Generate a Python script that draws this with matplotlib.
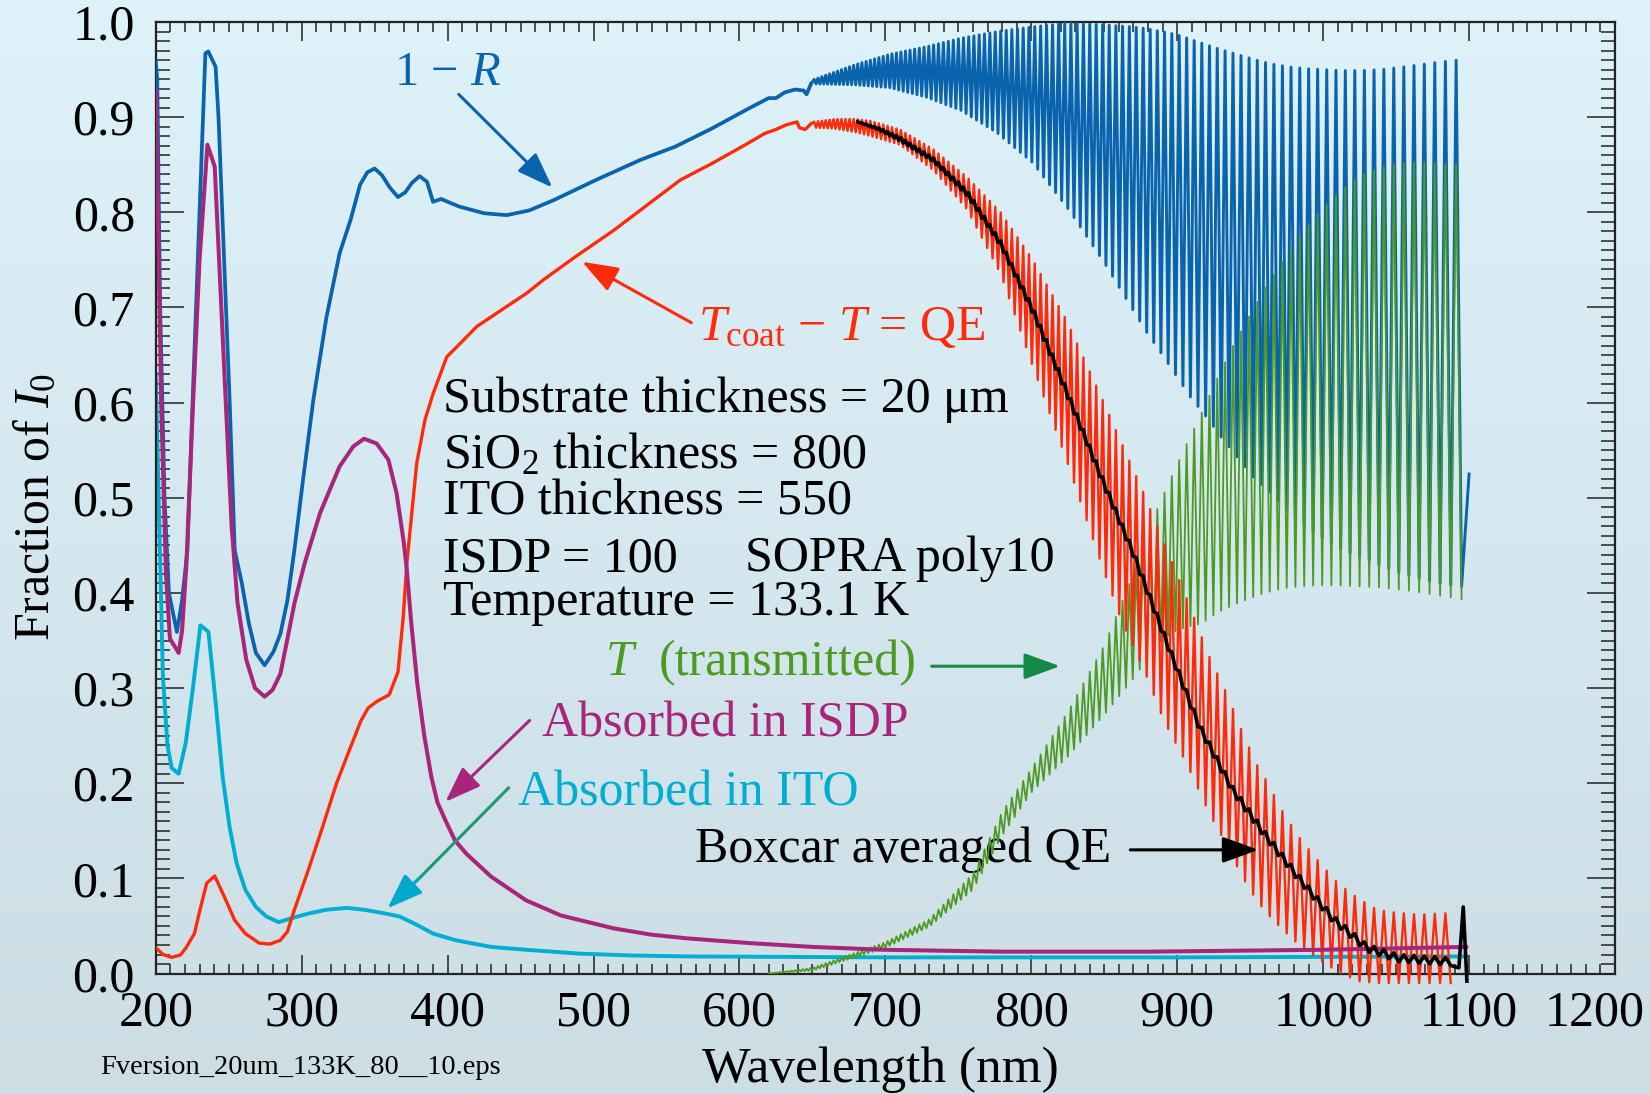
import numpy as np
import matplotlib
matplotlib.use('Agg')
import matplotlib.pyplot as plt
from matplotlib.ticker import MultipleLocator, FuncFormatter

plt.rcParams['font.family'] = 'Liberation Serif'
plt.rcParams['mathtext.fontset'] = 'custom'
plt.rcParams['mathtext.rm'] = 'Liberation Serif'
plt.rcParams['mathtext.it'] = 'Liberation Serif:italic'
plt.rcParams['mathtext.bf'] = 'Liberation Serif:bold'

# ---- smooth parts of the curves (wavelength nm, fraction of I0) ----
blue_wl = [200, 201, 203, 206, 209, 214.5, 218, 221.7, 225.3, 230, 234, 236, 241, 243, 250.6,
           254.1, 259, 263.8, 268.6, 274.6, 280.6, 285.4, 290.2, 295, 301, 308, 317, 326,
           333.5, 340, 345, 350, 355, 360.4, 366, 371, 375.6, 380.8, 385.9, 390, 395.5, 408,
           425, 440.5, 456, 473, 501.7, 532, 556, 581, 605, 620, 625, 631, 638, 644, 646, 649]
blue_val = [0.958, 0.94, 0.70, 0.50, 0.40, 0.359, 0.392, 0.445, 0.603, 0.80, 0.967, 0.969,
            0.953, 0.90, 0.603, 0.445, 0.41, 0.368, 0.337, 0.324, 0.338, 0.357, 0.392, 0.445,
            0.52, 0.603, 0.69, 0.757, 0.792, 0.829, 0.842, 0.846, 0.839, 0.826, 0.816, 0.821,
            0.831, 0.838, 0.832, 0.811, 0.814, 0.806, 0.799, 0.797, 0.802, 0.813, 0.834, 0.855,
            0.869, 0.888, 0.908, 0.92, 0.92, 0.926, 0.929, 0.928, 0.924, 0.935]

red_wl = [200.5, 205, 210.9, 216.9, 220.5, 226.5, 230, 234.9, 240.4, 246.9, 254.1, 261.4,
          270.9, 278.2, 285.4, 290.2, 295, 304.6, 314.3, 323.9, 333.5, 340.7, 345.5, 351.5,
          360, 366, 369.6, 372, 378.8, 384.5, 390.2, 399.4, 408.5, 420, 440.5, 454.2, 465.6,
          487.3, 513.8, 537.9, 559.5, 580.8, 605.2, 617.5, 624.9, 632.2, 639.5, 641, 645, 649]
red_val = [0.0265, 0.02, 0.017, 0.0195, 0.0265, 0.042, 0.065, 0.095, 0.1025, 0.081, 0.056,
           0.042, 0.032, 0.031, 0.035, 0.044, 0.067, 0.109, 0.154, 0.200, 0.238, 0.266, 0.279,
           0.286, 0.293, 0.317, 0.375, 0.43, 0.536, 0.582, 0.610, 0.648, 0.662, 0.680, 0.701,
           0.715, 0.729, 0.753, 0.781, 0.809, 0.834, 0.851, 0.872, 0.883, 0.887, 0.892, 0.895,
           0.889, 0.887, 0.893]

isdp_wl = [200, 201.5, 203.7, 207, 209.7, 215.7, 218, 221, 225, 230, 235.4, 240.4, 244, 248,
           252, 256, 262, 268, 274.6, 280, 285.4, 290, 295, 302, 312.6, 326, 335.4, 342.7,
           351.4, 359.4, 365, 369.7, 372, 375, 379.2, 384, 388.8, 393, 398.5, 405, 412.8,
           429.7, 453.7, 477.7, 513.8, 539, 564, 607, 650, 699, 780, 880, 1000, 1098]
isdp_val = [0.929, 0.80, 0.60, 0.42, 0.352, 0.337, 0.36, 0.43, 0.58, 0.75, 0.871, 0.848,
            0.73, 0.60, 0.47, 0.39, 0.33, 0.30, 0.291, 0.298, 0.315, 0.35, 0.389, 0.431,
            0.484, 0.533, 0.554, 0.562, 0.557, 0.540, 0.505, 0.456, 0.425, 0.37, 0.305, 0.25,
            0.207, 0.18, 0.161, 0.14, 0.126, 0.102, 0.077, 0.061, 0.0475, 0.041, 0.037, 0.032,
            0.028, 0.025, 0.023, 0.023, 0.025, 0.028]

ito_wl = [200, 202, 204.9, 208, 210.9, 215.7, 220.5, 225.3, 230.6, 236.1, 240.9, 245.8,
          250.6, 255.4, 261.4, 268.6, 275.8, 284.2, 292.6, 304.6, 316.7, 331, 343.1, 357.5,
          367, 379.2, 390, 405.6, 429.7, 453.7, 489.8, 525.8, 564.3, 700, 900, 1098]
ito_val = [0.63, 0.50, 0.312, 0.24, 0.216, 0.21, 0.242, 0.298, 0.366, 0.359, 0.287, 0.207,
           0.154, 0.116, 0.088, 0.070, 0.060, 0.054, 0.058, 0.063, 0.067, 0.069, 0.067, 0.063,
           0.060, 0.051, 0.042, 0.035, 0.028, 0.025, 0.021, 0.019, 0.018, 0.017, 0.017, 0.018]

# ---- fringe envelopes (hi = fringe maxima, lo = fringe minima) ----
blue_env_wl = [650, 679, 703, 728, 752, 777, 801, 826, 850, 869, 879, 889, 899, 909, 920, 930,
               941, 952, 964, 976, 988, 1000, 1013, 1026, 1040, 1061, 1080, 1098]
blue_hi = [0.939, 0.955, 0.966, 0.974, 0.983, 0.990, 0.995, 0.999, 0.997, 0.995, 0.993, 0.990,
           0.987, 0.982, 0.976, 0.971, 0.966, 0.961, 0.956, 0.953, 0.951, 0.950, 0.949, 0.949,
           0.950, 0.954, 0.958, 0.961]
blue_lo = [0.935, 0.934, 0.931, 0.921, 0.907, 0.883, 0.852, 0.802, 0.747, 0.699, 0.674, 0.652,
           0.629, 0.606, 0.585, 0.564, 0.543, 0.522, 0.505, 0.485, 0.470, 0.458, 0.445, 0.438,
           0.428, 0.417, 0.410, 0.406]

red_env_wl = [650, 665, 680, 690, 710, 733, 756, 779, 801, 824, 848, 862, 877, 891, 906, 922,
              934, 944, 954, 961, 973, 985, 998, 1010, 1024, 1037, 1050, 1065, 1093]
red_hi = [0.895, 0.898, 0.898, 0.896, 0.887, 0.866, 0.837, 0.800, 0.750, 0.687, 0.606, 0.557,
          0.505, 0.452, 0.396, 0.333, 0.294, 0.256, 0.221, 0.203, 0.168, 0.140, 0.116, 0.095,
          0.079, 0.067, 0.064, 0.062, 0.064]
red_lo = [0.889, 0.888, 0.884, 0.880, 0.871, 0.844, 0.803, 0.735, 0.638, 0.54, 0.43, 0.37,
          0.32, 0.265, 0.222, 0.168, 0.135, 0.103, 0.078, 0.064, 0.045, 0.028, 0.014, 0.002,
          -0.008, -0.01, -0.01, -0.01, -0.01]

green_env_wl = [620, 650, 700, 730, 760, 780, 800, 825, 850, 870, 886, 896, 906, 917, 927, 938,
                949, 960, 973, 985, 997, 1010, 1023, 1037, 1050, 1065, 1080, 1098]
green_hi = [0.0, 0.006, 0.033, 0.057, 0.105, 0.17, 0.215, 0.275, 0.345, 0.42, 0.487, 0.522,
            0.555, 0.590, 0.624, 0.659, 0.690, 0.720, 0.750, 0.777, 0.800, 0.820, 0.836, 0.846,
            0.851, 0.853, 0.851, 0.850]
green_lo = [0.0, 0.003, 0.027, 0.049, 0.088, 0.145, 0.19, 0.228, 0.272, 0.31, 0.345, 0.358,
            0.364, 0.368, 0.379, 0.387, 0.394, 0.400, 0.405, 0.407, 0.408, 0.408, 0.407, 0.406,
            0.404, 0.401, 0.397, 0.393]

# boxcar averaged QE and its residual ripple
box_wl = [681, 695, 710, 733, 756, 779, 801, 824, 847, 870, 893, 915, 938, 961, 984, 1007,
          1030, 1052, 1075, 1091]
box_val = [0.895, 0.888, 0.877, 0.855, 0.820, 0.767, 0.697, 0.612, 0.525, 0.441, 0.347, 0.260,
           0.193, 0.144, 0.099, 0.057, 0.027, 0.016, 0.014, 0.012]
box_amp = [0.0, 0.001, 0.002, 0.002, 0.003, 0.003, 0.004, 0.004, 0.004, 0.004, 0.004, 0.004,
           0.004, 0.004, 0.004, 0.004, 0.004, 0.004, 0.004, 0.004]
box_end_wl = [1093, 1096, 1098.5]
box_end_val = [0.006, 0.070, -0.008]

# fringe period read from the spacing of the fringes
period_wl = [650, 700, 750, 800, 850, 900, 950, 1000, 1050, 1100]
period_nm = [2.6, 3.0, 3.5, 4.0, 4.5, 5.1, 5.6, 6.3, 6.9, 7.6]

# fringe maxima positions shared by all curves (same phase)
peaks = []
w = 620.0
while w < 1097:
    peaks.append(w)
    w += np.interp(w, period_wl, period_nm)


def fringes(wl, hi, lo, start, stop):
    # zig-zag between the fringe maxima and minima
    x, y = [], []
    for p in peaks:
        if start <= p < stop:
            half = np.interp(p, period_wl, period_nm) / 2
            x += [p, p + half]
            y += [np.interp(p, wl, hi), np.interp(p + half, wl, lo)]
    return x, y


BLUE = '#0a64ad'
RED = '#ff2a0a'
GREEN = '#4d9a22'
PURPLE = '#a8267a'
CYAN = '#00aed2'

fig = plt.figure(figsize=(16.5, 10.94), dpi=100)

# background gradient
bg = fig.add_axes([0, 0, 1, 1], zorder=-10)
top = np.array([222, 242, 250]) / 255
bot = np.array([204, 221, 228]) / 255
t = np.linspace(0, 1, 256)[:, None, None]
bg.imshow(top * (1 - t) + bot * t, aspect='auto', extent=[0, 1, 0, 1])
bg.axis('off')

ax = fig.add_axes([0.0944, 0.1101, 0.8844, 0.8698])
ax.set_facecolor('none')

# curves
ax.plot(ito_wl, ito_val, color=CYAN, lw=2.8, zorder=2)

ax.plot(blue_wl, blue_val, color=BLUE, lw=2.7, zorder=3)
bx, by = fringes(blue_env_wl, blue_hi, blue_lo, 649, 1096)
ax.plot([blue_wl[-1]] + bx + [1100], [blue_val[-1]] + by + [0.525], color=BLUE, lw=2.1, zorder=3)

gx, gy = fringes(green_env_wl, green_hi, green_lo, 620, 1096)
ax.plot(gx, gy, color=GREEN, lw=1.3, zorder=4)

ax.plot(red_wl, red_val, color=RED, lw=2.4, zorder=5)
rx, ry = fringes(red_env_wl, red_hi, red_lo, 649, 1090)
ax.plot([red_wl[-1]] + rx, [red_val[-1]] + ry, color=RED, lw=1.7, zorder=5, clip_on=False)

ax.plot(isdp_wl, isdp_val, color=PURPLE, lw=2.9, zorder=6)

kx, ky = fringes(box_wl, np.add(box_val, box_amp), np.subtract(box_val, box_amp), 681, 1091)
ax.plot([681] + kx + box_end_wl, [0.895] + ky + box_end_val, color='black', lw=2.6, zorder=7,
        clip_on=False)

# axes and ticks
ax.set_xlim(200, 1200)
ax.set_ylim(0, 1.0)
ax.xaxis.set_major_locator(MultipleLocator(100))
ax.xaxis.set_minor_locator(MultipleLocator(10))
ax.yaxis.set_major_locator(MultipleLocator(0.1))
ax.yaxis.set_minor_locator(MultipleLocator(0.01))
ax.yaxis.set_major_formatter(FuncFormatter(lambda v, pos: f'{v:.1f}'))
# the last label is shifted left so it stays inside the figure
ax.xaxis.set_major_formatter(FuncFormatter(lambda v, pos: '' if v > 1150 else f'{v:.0f}'))
ax.tick_params(axis='both', which='both', direction='in', top=True, right=True,
               labelsize=36, width=1.1, color='#222222')
ax.tick_params(axis='x', which='major', length=13.5, pad=12)
ax.tick_params(axis='x', which='minor', length=7)
ax.tick_params(axis='y', which='major', length=20, pad=15)
ax.tick_params(axis='y', which='minor', length=10)
for s in ax.spines.values():
    s.set_linewidth(1.6)
    s.set_color('#222222')
ax.annotate('1200', xy=(1200, 0), xycoords='data', xytext=(-15, -12), textcoords='offset points',
            ha='center', va='top', fontsize=36, annotation_clip=False)

fig.text(0.5333, 0.011, 'Wavelength (nm)', fontsize=37, ha='center', va='baseline')
fig.text(0.0223, 0.5366, 'Fraction of $I_0$', fontsize=36, rotation=90, ha='center', va='center')
fig.text(0.0606, 0.0183, 'Fversion_20um_133K_80__10.eps', fontsize=20.5, ha='left', va='baseline')


# labels and arrows
def arrow(start, tip, color):
    ax.annotate('', xy=tip, xytext=start,
                arrowprops=dict(arrowstyle='-|>,head_length=1.1,head_width=0.4', color=color,
                                lw=2.2, mutation_scale=20, shrinkA=0, shrinkB=0), zorder=8)


ax.text(363.6, 0.934, '1 − $R$', color=BLUE, fontsize=35, ha='left', va='baseline')
arrow((407.6, 0.924), (471.8, 0.826), BLUE)

ax.text(571.8, 0.666, '$T_{\\mathrm{coat}}$ − $T$ = QE', color=RED, fontsize=36, ha='left', va='baseline')
arrow((567.0, 0.684), (492.1, 0.748), RED)

block = [('Substrate thickness = 20 μm', 0.590),
         ('SiO$_2$ thickness = 800', 0.531),
         ('ITO thickness = 550', 0.482),
         ('ISDP = 100', 0.423),
         ('Temperature = 133.1 K', 0.377)]
for txt, yb in block:
    ax.text(396.7, yb, txt, fontsize=36, ha='left', va='baseline', color='black')
ax.text(603.8, 0.423, 'SOPRA poly10', fontsize=36, ha='left', va='baseline', color='black')

ax.text(507.8, 0.314, '$T$', color=GREEN, fontsize=36, ha='left', va='baseline')
ax.text(544.4, 0.314, '(transmitted)', color=GREEN, fontsize=36, ha='left', va='baseline')
arrow((731.7, 0.323), (819.7, 0.323), '#138a45')

ax.text(464.6, 0.249, 'Absorbed in ISDP', color=PURPLE, fontsize=36, ha='left', va='baseline')
arrow((456.2, 0.266), (398.5, 0.1805), PURPLE)

ax.text(448.0, 0.177, 'Absorbed in ITO', color=CYAN, fontsize=36, ha='left', va='baseline')
ax.plot([441.7, 375.0], [0.195, 0.0915], color='#1c9a70', lw=2.2, zorder=8)
arrow((380.0, 0.0995), (358.8, 0.0685), '#00a8cc')

ax.text(569.6, 0.1175, 'Boxcar averaged QE', color='black', fontsize=36, ha='left', va='baseline')
arrow((867.8, 0.130), (955.6, 0.130), 'black')

fig.savefig('out.png', dpi=100)
